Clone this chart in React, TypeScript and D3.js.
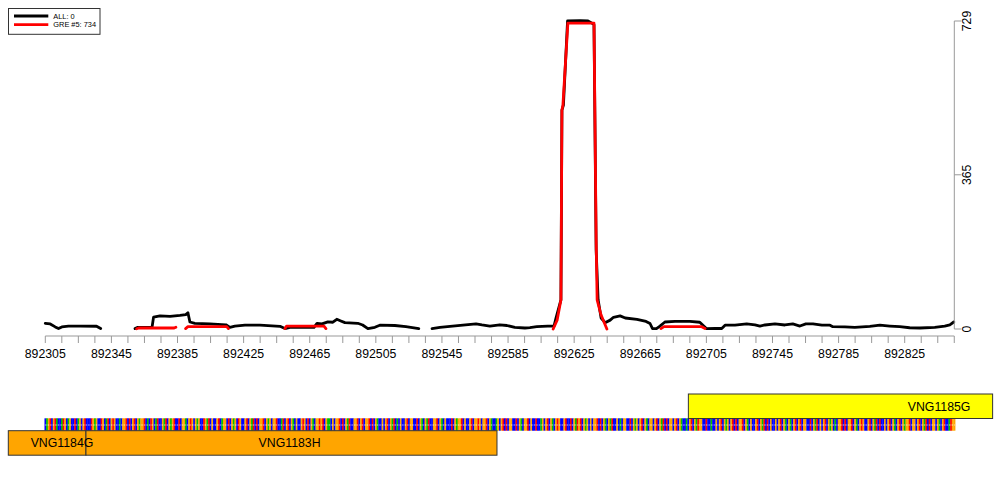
import React from "react";
import * as d3 from "d3";

// ---------- data ----------
const ALL_POS: (number | null)[] = [
  892305, 892308, 892311, 892313, 892315, 892319, 892326, 892336, 892338.5, null,
  892359.3, 892361, 892369.6, 892370.5, 892374.4, 892380.5, 892386.5, 892390, 892391.3, 892392.5,
  892395.5, 892404.6, 892414.3, 892416.7, 892419.7, 892425.8, 892434.9, 892447, 892450, 892453,
  892467.6, 892469.4, 892472.4, 892476, 892479, 892481.4, 892483.8, 892486.3, 892494.1, 892497,
  892500.2, 892504.4, 892507.4, 892516.5, 892523.2, 892531, null,
  892539, 892543.8, 892549.9, 892557.7, 892565.6, 892569.2, 892574, 892580, 892584.3, 892589.1,
  892595.2, 892598.2, 892602.4, 892609, 892612.8, 892614, 892617, 892617.6, 892618.5, 892621,
  892628.6, 892633.4, 892635.8, 892637, 892638.3, 892639.5, 892641.3, 892643.7, 892646.8, 892648.8,
  892652.8, 892655.9, 892663, 892668.5, 892670.9, 892672.4, 892674.8, 892676.9, 892679.9, 892686,
  892695, 892701, 892705, 892710.2, 892714.3, 892716.3, 892722.3, 892729.4, 892734.4, 892737.4,
  892740.4, 892746.5, 892752.5, 892757.3, 892761.6, 892765.2, 892769.5, 892774.9, 892779.8, 892781.5,
  892788.8, 892794.8, 892803.9, 892810, 892816, 892822, 892828, 892834.2, 892843.2, 892849.2,
  892852.3, 892854.7,
];
const ALL_VAL: (number | null)[] = [
  13.5, 12, 5, 1, 5, 7, 7, 6.5, 1, null,
  1, 4, 4, 28, 31, 30, 32, 34, 38.6, 16.6,
  13.5, 12, 10, 4, 7, 9, 9, 6.4, 1, 4,
  4, 13.5, 12, 17, 16, 23, 19, 15, 13.5, 9.5,
  1, 4, 9, 8.3, 5.5, 1, null,
  1, 4, 6, 9, 12, 9.5, 7, 10, 8.3, 4,
  2.4, 3.5, 5.5, 7, 7, 26, 69, 518, 530, 729,
  730, 729, 724, 720, 187, 69, 26, 15, 21, 27.7,
  31, 26, 23, 18, 13, 1, 1, 7, 16.6, 18,
  18, 16, 1, 1.2, 1.2, 9, 9, 12, 10, 7,
  9.5, 12, 9.5, 12, 7, 12, 12, 9, 9, 5.5,
  5, 4, 6.4, 9, 7, 5.5, 3, 2.4, 4, 7,
  10, 16.6,
];
const GRE_POS: (number | null)[] = [
  892360.3, 892361.5, 892383, 892384, null,
  892389.9, 892391.3, 892414.8, 892415.8, null,
  892450, 892451, 892473.6, 892474.8, null,
  892612.3, 892614.7, 892617, 892617.6, 892618.2, 892621.2, 892637, 892638.3, 892638.9, 892641.3, 892644.8, null,
  892677.5, 892679.4, 892702.2, 892704.2,
];
const GRE_VAL: (number | null)[] = [
  0.5, 2.4, 2.4, 4, null,
  1, 5.5, 5.5, 1, null,
  1, 7, 7, 1, null,
  0, 21, 69, 518, 530, 724, 724, 210, 69, 33, 0, null,
  1, 5.5, 5.5, 1,
];
const LEGEND_LABELS = ["ALL: 0", "GRE #5: 734"];
const Y_TICKS = [0, 365, 729];
const X_LABEL_TICKS = [892305, 892345, 892385, 892425, 892465, 892505, 892545, 892585, 892625, 892665, 892705, 892745, 892785, 892825];
const SEQ_START = 892305;
const SEQ_END = 892855;
const SEQUENCE =
  "CAGTCGTACCATGCAGCCTCAGCGTCCCTGAGCCTGCATCGTGCCACGGTCTCGTCGAGGTCACTGCATCCGATCGAGTCCTCGGACGTGCGAGCCTGATCGCCGTCAGGCTCGAGCTGCCGTCGATCTCGGTCGAGCGGTCCATCGTCGACGCCGTGCTCGACGGTGTCGAACGCGGTCTCGATCCGGTCGTCGGTCTCGACCGCGTCGATCACGCCGTCGGCCTCGACGATCCGGTCGACGCCCTCGAGGTCGCCGTCGGTGCGGTCGACCAGCGTCTCGGCCTCGACGGTCGCCTCCAGCGTCGACGTGCCGTCCTCGATGTCGAGCGCGGTCTCGACGATCCGCACGGCCTCGAGCGTCGACGGCGTCGATCTCGGCGTCGACCACGTCGATGGCCTCCACCGCGTCGAGCGTCTCGGTCGACGCCGTCGATCTCGCCGCGTCGACGACGTCGTCGGCCTCGATCGCGTCGAGCACGGTCTCGGTCGACGTGCCGTCGATCTCCGCGTCGACGTCGAGGTCGGCGTCGATCTCGGCGACGTCCATGGCGTCGAGCTCGGTGACG";
const GENES = [
  { name: "VNG1185G", start: 892694.1, end: 892878.2, row: 0, color: "#FFFF00", labelPos: 892845.8 },
  { name: "VNG1184G", start: 892282.6, end: 892329.6, row: 1, color: "#FFA500", labelPos: 892315.1 },
  { name: "VNG1183H", start: 892329.6, end: 892578.3, row: 1, color: "#FFA500", labelPos: 892452.8 },
];
const BASE_COLORS: Record<string, string> = { A: "#00C000", C: "#0000FF", G: "#FFA500", T: "#FF0000" };

// ---------- component ----------
export default function App() {
  const W = 1000, H = 500;
  const x = d3.scaleLinear().domain([892305, 892825]).range([45.3, 904.7]);
  const y = d3.scaleLinear().domain([0, 729]).range([329, 21]);

  const allData = ALL_POS.map((p, i) => ({ p, v: ALL_VAL[i] }));
  const greData = GRE_POS.map((p, i) => ({ p, v: GRE_VAL[i] }));
  const line = d3
    .line<{ p: number | null; v: number | null }>()
    .defined((d) => d.p != null && d.v != null)
    .x((d) => x(d.p as number))
    .y((d) => y(d.v as number));

  const xTicks = d3.range(892305, 892856, 10);
  const axisY = 336;
  const yAxisX = 954.3;
  const bw = x(1) - x(0);
  const nBases = SEQ_END - SEQ_START + 1;
  const seq = SEQUENCE.slice(0, nBases).split("");
  const font = "'Liberation Sans', Arial, Helvetica, sans-serif";

  const rowTop = [394, 430.7];
  const rowH = 24.5;

  return (
    <svg width={W} height={H} style={{ position: "absolute", left: 0, top: 0, background: "#fff" }} fontFamily={font}>
      <rect width={W} height={H} fill="#fff" />
      {/* lines */}
      <path d={line(allData) || ""} fill="none" stroke="#000" strokeWidth={2.8} strokeLinejoin="round" strokeLinecap="round" />
      <path d={line(greData) || ""} fill="none" stroke="#FF0000" strokeWidth={2.8} strokeLinejoin="round" strokeLinecap="round" />

      {/* x axis */}
      <line x1={x(xTicks[0])} x2={x(xTicks[xTicks.length - 1])} y1={axisY} y2={axisY} stroke="#999" strokeWidth={1} />
      {xTicks.map((t) => (
        <line key={t} x1={x(t)} x2={x(t)} y1={axisY} y2={axisY + 7} stroke="#999" strokeWidth={1} />
      ))}
      {X_LABEL_TICKS.map((t) => (
        <text key={t} x={x(t)} y={357.5} fontSize={12.3} textAnchor="middle" fill="#000">
          {t}
        </text>
      ))}

      {/* y axis right */}
      <line x1={yAxisX} x2={yAxisX} y1={y(729)} y2={y(0)} stroke="#999" strokeWidth={1} />
      {Y_TICKS.map((t) => (
        <g key={t}>
          <line x1={yAxisX} x2={yAxisX + 7} y1={y(t)} y2={y(t)} stroke="#999" strokeWidth={1} />
          <text
            transform={`translate(${yAxisX + 17},${y(t)}) rotate(-90)`}
            fontSize={12.3}
            textAnchor="middle"
            fill="#000"
          >
            {t}
          </text>
        </g>
      ))}

      {/* legend */}
      <rect x={8.5} y={8.5} width={91.5} height={25.8} fill="#fff" stroke="#333" strokeWidth={1} />
      <line x1={14} x2={48.3} y1={16} y2={16} stroke="#000" strokeWidth={2.8} />
      <line x1={14} x2={48.3} y1={24.7} y2={24.7} stroke="#FF0000" strokeWidth={2.8} />
      {LEGEND_LABELS.map((l, i) => (
        <text key={l} x={53.3} y={18.6 + i * 8.7} fontSize={7.4} fill="#000">
          {l}
        </text>
      ))}

      {/* sequence strip */}
      {seq.map((b, i) => (
        <rect key={i} x={x(SEQ_START + i) - bw / 2} y={418.3} width={bw + 0.3} height={12.4} fill={BASE_COLORS[b] || "#ccc"} />
      ))}
      {seq.map((b, i) => (
        <rect key={"w" + i} x={x(SEQ_START + i) - 0.4} y={424.5} width={0.8} height={1} fill="#fff" opacity={0.9} />
      ))}

      {/* genes */}
      {GENES.map((g) => (
        <g key={g.name}>
          <rect
            x={Math.max(8.3, x(g.start))}
            y={rowTop[g.row]}
            width={Math.min(992.7, x(g.end)) - Math.max(8.3, x(g.start))}
            height={rowH}
            fill={g.color}
            stroke="#333"
            strokeWidth={1}
          />
        </g>
      ))}
      {GENES.map((g) => (
        <text key={"t" + g.name} x={x(g.labelPos)} y={rowTop[g.row] + rowH / 2 + 4.4} fontSize={12.3} textAnchor="middle" fill="#000">
          {g.name}
        </text>
      ))}
    </svg>
  );
}
